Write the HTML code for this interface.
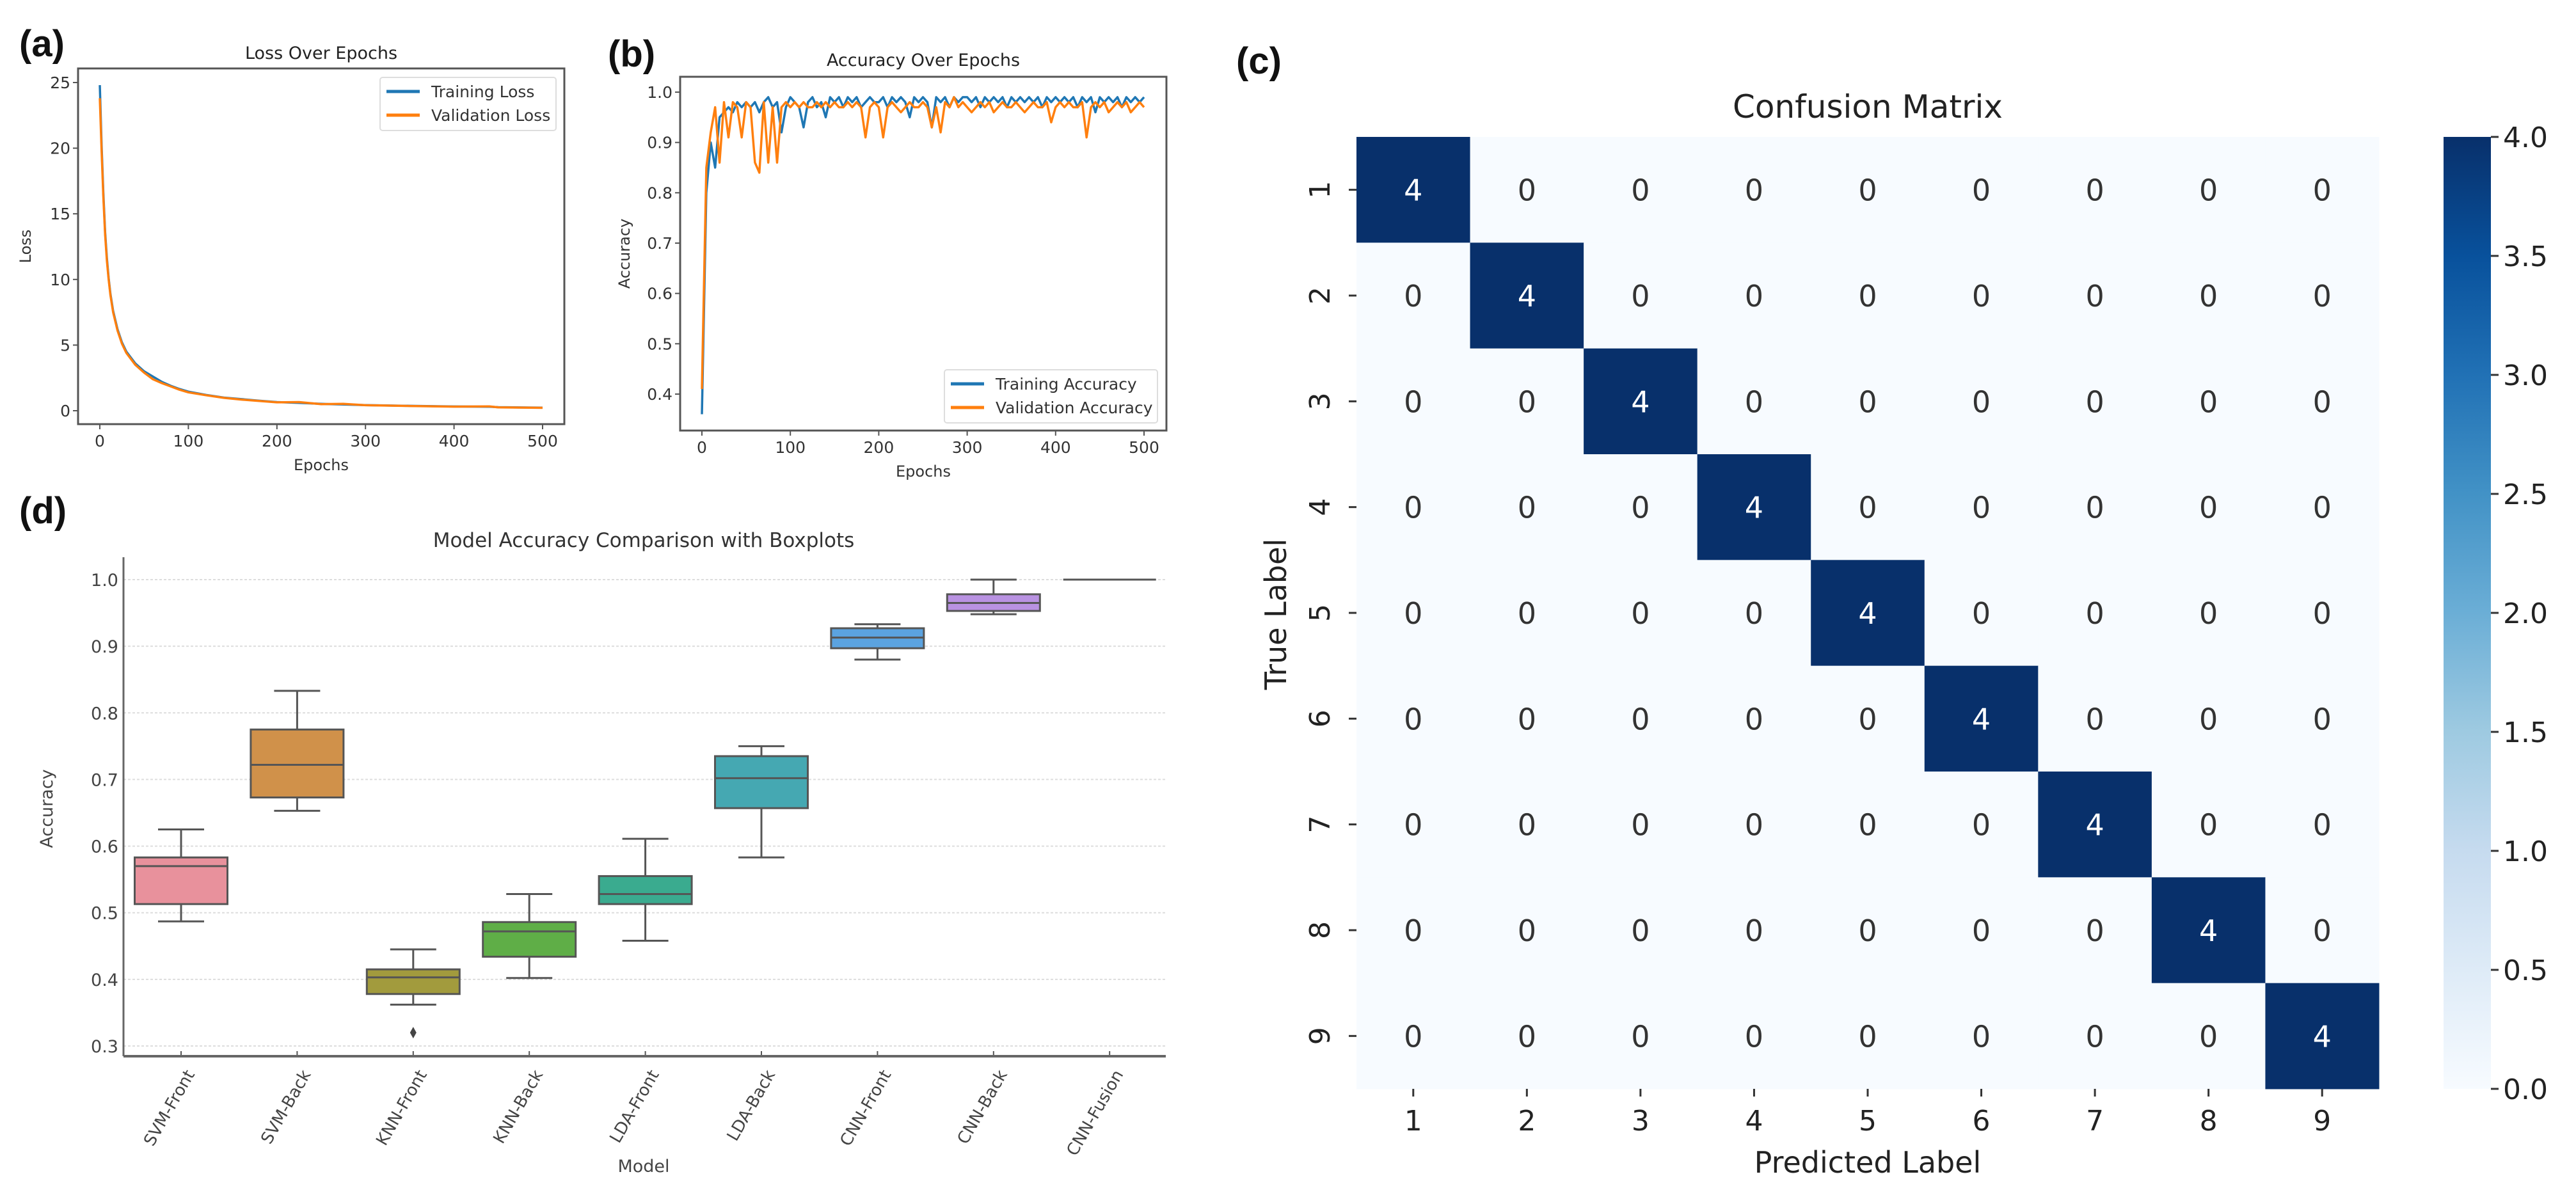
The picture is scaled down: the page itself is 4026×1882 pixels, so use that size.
<!DOCTYPE html>
<html><head><meta charset="utf-8">
<style>
html,body{margin:0;padding:0;background:#fff;}
svg{display:block;font-family:"DejaVu Sans","Liberation Sans",sans-serif;}
</style></head>
<body>
<svg id="fig" width="4026" height="1882" viewBox="0 0 4026 1882" xmlns="http://www.w3.org/2000/svg">
<text x="30" y="88" font-family="Liberation Sans, sans-serif" font-weight="bold" font-size="58" fill="#111">(a)</text>
<text x="950" y="104" font-family="Liberation Sans, sans-serif" font-weight="bold" font-size="58" fill="#111">(b)</text>
<text x="1932" y="115" font-family="Liberation Sans, sans-serif" font-weight="bold" font-size="58" fill="#111">(c)</text>
<text x="30" y="818" font-family="Liberation Sans, sans-serif" font-weight="bold" font-size="58" fill="#111">(d)</text>
<g id="pa"></g>
<g id="pb"></g>
<g id="pc"></g>
<g id="pd"></g>
</svg>
<script>
// ---- Panel (a) data ----
const lossEpochs = [0,2,4,6,8,10,12,15,20,25,30,40,50,60,70,80,90,100,120,140,160,180,200,225,250,275,300,350,400,440,450,500];
const trainLoss = [24.8,20.2,16.6,13.6,11.6,10.1,8.9,7.6,6.2,5.2,4.5,3.6,3.0,2.6,2.2,1.9,1.65,1.45,1.2,1.0,0.88,0.76,0.66,0.6,0.52,0.48,0.43,0.37,0.32,0.3,0.27,0.23];
const valLoss = [23.8,19.8,16.3,13.4,11.4,10.0,8.8,7.5,6.1,5.1,4.4,3.5,2.9,2.4,2.1,1.85,1.6,1.4,1.18,0.98,0.85,0.74,0.64,0.66,0.5,0.52,0.42,0.36,0.31,0.33,0.26,0.22];
const lossTicksY = [0,5,10,15,20,25];
const epochTicks = [0,100,200,300,400,500];
// ---- Panel (b) data (every 5 epochs) ----
const trainAcc = [0.36,0.80,0.90,0.85,0.95,0.96,0.97,0.96,0.98,0.97,0.98,0.97,0.98,0.96,0.98,0.99,0.97,0.98,0.92,0.97,0.99,0.98,0.97,0.93,0.98,0.99,0.97,0.98,0.95,0.99,0.98,0.99,0.97,0.99,0.98,0.99,0.97,0.98,0.99,0.98,0.98,0.99,0.97,0.99,0.98,0.99,0.98,0.95,0.99,0.98,0.99,0.98,0.93,0.99,0.98,0.99,0.97,0.99,0.98,0.99,0.99,0.98,0.99,0.97,0.99,0.98,0.99,0.98,0.99,0.97,0.99,0.98,0.99,0.98,0.99,0.98,0.99,0.97,0.99,0.98,0.99,0.98,0.99,0.98,0.99,0.97,0.99,0.98,0.99,0.96,0.99,0.98,0.99,0.98,0.99,0.97,0.99,0.98,0.99,0.98,0.99];
const valAcc = [0.41,0.85,0.92,0.97,0.86,0.98,0.91,0.98,0.97,0.91,0.98,0.97,0.86,0.84,0.98,0.86,0.97,0.86,0.97,0.98,0.97,0.98,0.97,0.98,0.97,0.97,0.98,0.97,0.98,0.97,0.98,0.97,0.97,0.98,0.97,0.98,0.97,0.91,0.97,0.98,0.97,0.91,0.97,0.98,0.97,0.96,0.97,0.98,0.97,0.97,0.98,0.97,0.93,0.97,0.92,0.98,0.97,0.99,0.97,0.98,0.97,0.96,0.97,0.98,0.97,0.98,0.96,0.97,0.98,0.97,0.97,0.98,0.97,0.96,0.97,0.98,0.97,0.97,0.98,0.94,0.97,0.98,0.97,0.98,0.97,0.97,0.98,0.91,0.97,0.98,0.97,0.98,0.96,0.97,0.98,0.97,0.98,0.96,0.97,0.98,0.97];
const accTicksY = [0.4,0.5,0.6,0.7,0.8,0.9,1.0];
// ---- Panel (c) data ----
const cmLabels = ['1','2','3','4','5','6','7','8','9'];
const cmValues = [
 [4,0,0,0,0,0,0,0,0],[0,4,0,0,0,0,0,0,0],[0,0,4,0,0,0,0,0,0],
 [0,0,0,4,0,0,0,0,0],[0,0,0,0,4,0,0,0,0],[0,0,0,0,0,4,0,0,0],
 [0,0,0,0,0,0,4,0,0],[0,0,0,0,0,0,0,4,0],[0,0,0,0,0,0,0,0,4]];
const cbTicks = [0,0.5,1.0,1.5,2.0,2.5,3.0,3.5,4.0];
// ---- Panel (d) data ----
const models = ['SVM-Front','SVM-Back','KNN-Front','KNN-Back','LDA-Front','LDA-Back','CNN-Front','CNN-Back','CNN-Fusion'];
const whiskLo = [0.487,0.653,0.362,0.402,0.458,0.583,0.880,0.948,1.0];
const q1 = [0.513,0.673,0.378,0.434,0.513,0.657,0.897,0.953,1.0];
const medians = [0.570,0.722,0.403,0.472,0.528,0.702,0.913,0.965,1.0];
const q3 = [0.583,0.775,0.415,0.486,0.555,0.735,0.927,0.978,1.0];
const whiskHi = [0.625,0.833,0.445,0.528,0.611,0.750,0.933,1.0,1.0];
const outliers = [[],[],[0.32],[],[],[],[],[],[]];
const boxTicksY = [0.3,0.4,0.5,0.6,0.7,0.8,0.9,1.0];

const NS='http://www.w3.org/2000/svg';
function mk(parent,tag,attrs,text){const e=document.createElementNS(NS,tag);for(const k in attrs)e.setAttribute(k,attrs[k]);if(text!==undefined)e.textContent=text;parent.appendChild(e);return e;}
const TXT='#333';

function linePanel(g,o){
  const sx=v=>o.x0+(v-o.xmin)/(o.xmax-o.xmin)*(o.x1-o.x0);
  const sy=v=>o.y0+(v-o.ymin)/(o.ymax-o.ymin)*(o.y1-o.y0);
  const t=mk(g,'text',{x:(o.L+o.R)/2,y:o.titleY,'text-anchor':'middle','font-size':27,fill:'#222'},o.title);
  
  
  o.series.forEach(s=>{
    let d='';s.y.forEach((v,i)=>{d+=(i?'L':'M')+sx(s.x[i]).toFixed(1)+','+sy(v).toFixed(1);});
    const p=mk(g,'path',{d:d,fill:'none',stroke:s.color,'stroke-width':3.5,'stroke-linejoin':'round'});
    
    
  });
  const fr=mk(g,'rect',{x:o.L,y:o.T,width:o.R-o.L,height:o.B-o.T,fill:'none',stroke:'#555','stroke-width':3});
  
  
  o.yt.forEach(v=>{
    mk(g,'line',{x1:o.L,x2:o.L-8,y1:sy(v),y2:sy(v),stroke:'#555','stroke-width':2});
    const tl=mk(g,'text',{x:o.L-12,y:sy(v)+9,'text-anchor':'end','font-size':25,fill:TXT},o.fmt(v));
    
    
  });
  o.xt.forEach(v=>{
    mk(g,'line',{x1:sx(v),x2:sx(v),y1:o.B,y2:o.B+8,stroke:'#555','stroke-width':2});
    const tl=mk(g,'text',{x:sx(v),y:o.B+35,'text-anchor':'middle','font-size':25,fill:TXT},String(v));
    
    
  });
  const xl=mk(g,'text',{x:(o.L+o.R)/2,y:o.B+72,'text-anchor':'middle','font-size':24,fill:TXT},'Epochs');
  
  
  const yl=mk(g,'text',{x:o.ylabX,y:(o.T+o.B)/2,'text-anchor':'middle','font-size':24,fill:TXT,transform:`rotate(-90 ${o.ylabX} ${(o.T+o.B)/2})`},o.ylab);
  
  
  // legend
  const lg=mk(g,'g',{});
  
  
  mk(lg,'rect',{x:o.lg[0],y:o.lg[1],width:o.lg[2],height:o.lg[3],fill:'#fff',stroke:'#ddd','stroke-width':2,rx:4});
  o.series.forEach((s,i)=>{
    const yy=o.lg[1]+22+i*37;
    mk(lg,'line',{x1:o.lg[0]+10,x2:o.lg[0]+62,y1:yy,y2:yy,stroke:s.color,'stroke-width':5});
    const le=mk(lg,'text',{x:o.lg[0]+80,y:yy+9,'font-size':25,fill:TXT},s.label);
    
    
  });
}
const accEpochs = trainAcc.map((_,i)=>i*5);
const valEpochs = valAcc.map((_,i)=>i*5);
linePanel(document.getElementById('pa'),{L:122,R:882,T:107,B:663,x0:156,x1:848,xmin:0,xmax:500,y0:642,y1:129,ymin:0,ymax:25,
  title:'Loss Over Epochs',titleY:92,ylab:'Loss',ylabX:48,yt:lossTicksY,xt:epochTicks,fmt:v=>String(v),lg:[594,121,275,83],
  series:[{name:'training-loss-line',label:'Training Loss',color:'#1f77b4',x:lossEpochs,y:trainLoss},{name:'validation-loss-line',label:'Validation Loss',color:'#ff7f0e',x:lossEpochs,y:valLoss}]});
linePanel(document.getElementById('pb'),{L:1063,R:1823,T:120,B:673,x0:1097,x1:1788,xmin:0,xmax:500,y0:616,y1:144,ymin:0.4,ymax:1.0,
  title:'Accuracy Over Epochs',titleY:103,ylab:'Accuracy',ylabX:984,yt:accTicksY,xt:epochTicks,fmt:v=>v.toFixed(1),lg:[1476,578,333,83],
  series:[{name:'training-accuracy-line',label:'Training Accuracy',color:'#1f77b4',x:accEpochs,y:trainAcc},{name:'validation-accuracy-line',label:'Validation Accuracy',color:'#ff7f0e',x:valEpochs,y:valAcc}]});

// ---- Panel (c) ----
(function(){
  const g=document.getElementById('pc');
  const L=2120,R=3718,T=214,B=1702,n=cmLabels.length,cw=(R-L)/n,ch=(B-T)/n;
  const vmax=4;
  const stops=[[0,[247,251,255]],[0.125,[222,235,247]],[0.25,[198,219,239]],[0.375,[158,202,225]],[0.5,[107,174,214]],[0.625,[66,146,198]],[0.75,[33,113,181]],[0.875,[8,81,156]],[1,[8,48,107]]];
  function col(t){for(let i=1;i<stops.length;i++){if(t<=stops[i][0]){const a=stops[i-1],b=stops[i],f=(t-a[0])/(b[0]-a[0]);return 'rgb('+a[1].map((c,k)=>Math.round(c+(b[1][k]-c)*f)).join(',')+')';}}return 'rgb(8,48,107)';}
  const tt=mk(g,'text',{x:(L+R)/2,y:184,'text-anchor':'middle','font-size':50,fill:'#222'},'Confusion Matrix');
  
  
  cmValues.forEach((row,r)=>row.forEach((v,c)=>{
    const cell=mk(g,'rect',{x:L+c*cw,y:T+r*ch,width:cw+0.5,height:ch+0.5,fill:col(v/vmax)});
    
    
    const tx=mk(g,'text',{x:L+(c+0.5)*cw,y:T+(r+0.5)*ch+17,'text-anchor':'middle','font-size':46,fill:v/vmax>0.5?'#fff':'#333'},String(v));
    
    
  }));
  cmLabels.forEach((lab,i)=>{
    const cx=L+(i+0.5)*cw, cy=T+(i+0.5)*ch;
    mk(g,'line',{x1:cx,x2:cx,y1:B,y2:B+12,stroke:'#333','stroke-width':3});
    const xl=mk(g,'text',{x:cx,y:B+65,'text-anchor':'middle','font-size':44,fill:'#222'},lab);
    
    
    mk(g,'line',{x1:L,x2:L-12,y1:cy,y2:cy,stroke:'#333','stroke-width':3});
    const yl=mk(g,'text',{x:2078,y:cy,'text-anchor':'middle','font-size':44,fill:'#222',transform:`rotate(-90 2078 ${cy})`},lab);
    
    
  });
  const px=mk(g,'text',{x:(L+R)/2,y:1833,'text-anchor':'middle','font-size':46,fill:'#222'},'Predicted Label');
  
  
  const py=mk(g,'text',{x:2010,y:960,'text-anchor':'middle','font-size':46,fill:'#222',transform:'rotate(-90 2010 960)'},'True Label');
  
  
  // colorbar
  const defs=mk(g,'defs',{});
  const gr=mk(defs,'linearGradient',{id:'cbg',x1:0,y1:1,x2:0,y2:0});
  stops.forEach(s=>mk(gr,'stop',{offset:s[0],'stop-color':'rgb('+s[1].join(',')+')'}));
  const cb=mk(g,'rect',{x:3819,y:T,width:74,height:B-T,fill:'url(#cbg)'});
  
  
  cbTicks.forEach(v=>{
    const y=B-(v/vmax)*(B-T);
    mk(g,'line',{x1:3893,x2:3905,y1:y,y2:y,stroke:'#333','stroke-width':3});
    const tl=mk(g,'text',{x:3912,y:y+16,'font-size':44,fill:'#222'},v.toFixed(1));
    
    
  });
})();

// ---- Panel (d) ----
(function(){
  const g=document.getElementById('pd');
  const L=193,R=1822,T=871,B=1651;
  const sy=v=>906+(1.0-v)/0.7*(1635-906);
  const step=181.4, x0=283, bw=145;
  const sx=i=>x0+i*step;
  const colors=['#e8919c','#d0914a','#a29b3d','#5fae47','#3aab8f','#45a8b2','#5ba3e0','#b992e2','#e38bc8'];
  const tt=mk(g,'text',{x:1006,y:855,'text-anchor':'middle','font-size':31,fill:'#333'},'Model Accuracy Comparison with Boxplots');
  
  
  boxTicksY.forEach(v=>{
    const gl=mk(g,'line',{x1:L,x2:R,y1:sy(v),y2:sy(v),stroke:'#ddd','stroke-width':2,'stroke-dasharray':'4,3'});
    
    
    const tl=mk(g,'text',{x:L-8,y:sy(v)+10,'text-anchor':'end','font-size':27,fill:'#444'},v.toFixed(1));
    
    
  });
  const sc='#555';
  models.forEach((m,i)=>{
    const cx=sx(i);
    const bx=mk(g,'g',{});
    
    
    mk(bx,'line',{x1:cx,x2:cx,y1:sy(whiskHi[i]),y2:sy(q3[i]),stroke:sc,'stroke-width':3});
    mk(bx,'line',{x1:cx,x2:cx,y1:sy(q1[i]),y2:sy(whiskLo[i]),stroke:sc,'stroke-width':3});
    mk(bx,'line',{x1:cx-36,x2:cx+36,y1:sy(whiskHi[i]),y2:sy(whiskHi[i]),stroke:sc,'stroke-width':3});
    mk(bx,'line',{x1:cx-36,x2:cx+36,y1:sy(whiskLo[i]),y2:sy(whiskLo[i]),stroke:sc,'stroke-width':3});
    mk(bx,'rect',{x:cx-bw/2,y:sy(q3[i]),width:bw,height:Math.max(0,sy(q1[i])-sy(q3[i])),fill:colors[i],stroke:sc,'stroke-width':3});
    mk(bx,'line',{x1:cx-bw/2,x2:cx+bw/2,y1:sy(medians[i]),y2:sy(medians[i]),stroke:sc,'stroke-width':3});
    outliers[i].forEach(v=>{mk(bx,'path',{d:`M${cx},${sy(v)-9}L${cx+5},${sy(v)}L${cx},${sy(v)+9}L${cx-5},${sy(v)}Z`,fill:'#444'});});
    mk(g,'line',{x1:cx,x2:cx,y1:B,y2:B-8,stroke:sc,'stroke-width':2});
    const lx=cx+22, ly=B+28;
    const tl=mk(g,'text',{x:lx,y:ly,'text-anchor':'end','font-size':26,fill:'#444',transform:`rotate(-60 ${lx} ${ly})`},m);
    
    
  });
  mk(g,'line',{x1:L,x2:L,y1:T,y2:B,stroke:'#666','stroke-width':3});
  mk(g,'line',{x1:L,x2:R,y1:B,y2:B,stroke:'#666','stroke-width':4});
  const xl=mk(g,'text',{x:1006,y:1832,'text-anchor':'middle','font-size':27,fill:'#444'},'Model');
  
  
  const yl=mk(g,'text',{x:82,y:1264,'text-anchor':'middle','font-size':27,fill:'#444',transform:'rotate(-90 82 1264)'},'Accuracy');
  
  
})();
</script>
</body></html>
